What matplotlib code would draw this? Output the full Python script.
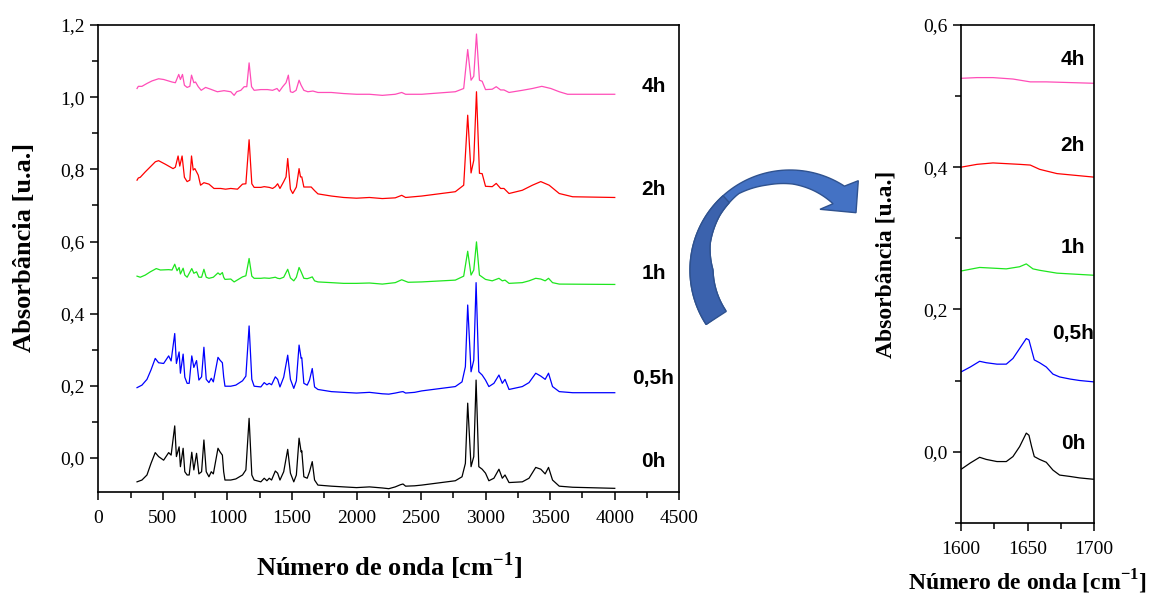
import numpy as np
import matplotlib
matplotlib.use('Agg')
import matplotlib.pyplot as plt
from matplotlib.patches import Polygon
from matplotlib.ticker import MultipleLocator, FuncFormatter

plt.rcParams['font.family'] = ['Liberation Serif', 'DejaVu Serif']
plt.rcParams['mathtext.fontset'] = 'custom'
plt.rcParams['mathtext.rm'] = 'Liberation Serif'
plt.rcParams['mathtext.bf'] = 'Liberation Serif:bold'

# ---- full spectra (wavenumber cm-1, absorbance) ----
wn_0h = [300, 338, 377, 408, 441, 467, 506, 545, 564, 592, 605, 626, 636, 657, 670, 688, 704, 724, 740, 761,
         779, 800, 818, 836, 857, 875, 891, 927, 943, 961, 971, 981, 1026, 1065, 1117, 1143, 1168, 1189, 1207,
         1259, 1285, 1306, 1324, 1342, 1371, 1389, 1407, 1436, 1467, 1488, 1514, 1534, 1555, 1571, 1576, 1592,
         1618, 1636, 1657, 1675, 1701, 1805, 1900, 2000, 2100, 2200, 2250, 2300, 2340, 2360, 2380, 2450, 2505,
         2765, 2817, 2843, 2861, 2887, 2908, 2926, 2947, 2973, 2999, 3025, 3064, 3103, 3129, 3150, 3181, 3284,
         3336, 3388, 3427, 3461, 3487, 3518, 3570, 3674, 4000]
abs_0h = [-0.066, -0.061, -0.047, -0.015, 0.015, 0.004, -0.006, 0.015, 0.008, 0.089, 0.004, 0.031, -0.024,
          0.027, -0.038, -0.047, -0.047, 0.016, -0.033, 0.013, -0.044, -0.038, 0.050, -0.038, -0.052, -0.038,
          -0.044, 0.027, 0.017, 0.008, -0.038, -0.061, -0.061, -0.058, -0.047, -0.033, 0.110, -0.047, -0.061,
          -0.066, -0.056, -0.063, -0.056, -0.061, -0.036, -0.042, -0.061, -0.038, 0.024, -0.042, -0.066, -0.047,
          0.055, 0.017, 0.020, -0.052, -0.056, -0.038, -0.010, -0.061, -0.075, -0.078, -0.080, -0.082, -0.080,
          -0.083, -0.085, -0.080, -0.074, -0.072, -0.078, -0.077, -0.075, -0.063, -0.052, -0.015, 0.152, -0.024,
          0.004, 0.216, -0.024, -0.031, -0.042, -0.063, -0.056, -0.031, -0.056, -0.047, -0.068, -0.066, -0.056,
          -0.026, -0.031, -0.044, -0.026, -0.061, -0.078, -0.081, -0.084]

wn_05h = wn_0h
abs_05h = [0.195, 0.202, 0.218, 0.244, 0.276, 0.264, 0.262, 0.283, 0.269, 0.345, 0.262, 0.294, 0.235, 0.288,
           0.224, 0.207, 0.207, 0.283, 0.251, 0.270, 0.216, 0.225, 0.307, 0.218, 0.209, 0.221, 0.211, 0.279,
           0.271, 0.264, 0.225, 0.199, 0.199, 0.202, 0.214, 0.227, 0.366, 0.218, 0.199, 0.197, 0.209, 0.203,
           0.207, 0.203, 0.225, 0.218, 0.197, 0.224, 0.285, 0.218, 0.193, 0.214, 0.313, 0.276, 0.278, 0.207,
           0.202, 0.216, 0.248, 0.197, 0.190, 0.184, 0.182, 0.180, 0.182, 0.178, 0.177, 0.180, 0.183, 0.184,
           0.180, 0.182, 0.186, 0.198, 0.211, 0.253, 0.424, 0.239, 0.271, 0.486, 0.239, 0.230, 0.216, 0.198,
           0.207, 0.230, 0.207, 0.218, 0.190, 0.198, 0.209, 0.235, 0.227, 0.218, 0.235, 0.198, 0.184, 0.181,
           0.181]

wn_1h = [300, 325, 364, 403, 449, 481, 545, 571, 592, 610, 626, 636, 657, 670, 688, 724, 740, 761, 779, 800,
         818, 836, 857, 891, 927, 943, 961, 971, 981, 1026, 1052, 1117, 1143, 1168, 1189, 1207, 1259, 1285, 1324,
         1371, 1389, 1407, 1436, 1467, 1488, 1514, 1534, 1555, 1571, 1592, 1618, 1636, 1657, 1675, 1701, 1805,
         1900, 2000, 2100, 2200, 2300, 2350, 2400, 2505, 2765, 2830, 2861, 2887, 2908, 2929, 2952, 2999, 3051,
         3103, 3129, 3150, 3181, 3284, 3336, 3388, 3427, 3461, 3487, 3518, 3570, 4000]
abs_1h = [0.504, 0.501, 0.507, 0.516, 0.525, 0.521, 0.522, 0.521, 0.537, 0.519, 0.528, 0.510, 0.526, 0.507,
          0.501, 0.525, 0.512, 0.516, 0.501, 0.501, 0.523, 0.501, 0.498, 0.501, 0.513, 0.508, 0.514, 0.501,
          0.495, 0.496, 0.488, 0.502, 0.505, 0.553, 0.504, 0.498, 0.498, 0.499, 0.498, 0.501, 0.498, 0.497,
          0.501, 0.523, 0.499, 0.491, 0.501, 0.528, 0.516, 0.498, 0.497, 0.499, 0.502, 0.491, 0.488, 0.486,
          0.484, 0.484, 0.485, 0.482, 0.486, 0.494, 0.487, 0.488, 0.493, 0.504, 0.573, 0.507, 0.521, 0.599,
          0.507, 0.495, 0.491, 0.498, 0.491, 0.493, 0.484, 0.486, 0.491, 0.498, 0.496, 0.491, 0.498, 0.486,
          0.482, 0.481]

wn_2h = [300, 310, 325, 364, 403, 442, 467, 520, 579, 597, 618, 631, 649, 667, 688, 709, 722, 735, 748, 774,
         792, 818, 857, 896, 948, 986, 1026, 1078, 1117, 1143, 1168, 1189, 1207, 1259, 1285, 1324, 1350, 1371,
         1389, 1407, 1436, 1454, 1467, 1488, 1506, 1534, 1555, 1566, 1576, 1592, 1618, 1649, 1675, 1701, 1805,
         1900, 2000, 2100, 2200, 2300, 2350, 2380, 2505, 2765, 2830, 2861, 2887, 2908, 2929, 2952, 2973, 2999,
         3051, 3082, 3116, 3142, 3181, 3284, 3362, 3427, 3492, 3570, 3674, 4000]
abs_2h = [0.770, 0.776, 0.778, 0.793, 0.807, 0.821, 0.824, 0.814, 0.802, 0.806, 0.837, 0.809, 0.837, 0.778,
          0.766, 0.770, 0.837, 0.798, 0.802, 0.784, 0.756, 0.763, 0.759, 0.747, 0.747, 0.745, 0.747, 0.745,
          0.759, 0.760, 0.882, 0.760, 0.750, 0.750, 0.752, 0.750, 0.747, 0.752, 0.760, 0.747, 0.766, 0.779,
          0.830, 0.745, 0.733, 0.751, 0.802, 0.779, 0.779, 0.751, 0.751, 0.751, 0.741, 0.732, 0.726, 0.722,
          0.720, 0.722, 0.719, 0.721, 0.728, 0.722, 0.726, 0.738, 0.756, 0.950, 0.790, 0.825, 1.015, 0.789,
          0.788, 0.753, 0.752, 0.761, 0.747, 0.747, 0.733, 0.742, 0.756, 0.766, 0.756, 0.733, 0.724, 0.722]

wn_4h = [300, 310, 338, 377, 416, 467, 506, 571, 597, 623, 636, 652, 667, 688, 709, 722, 740, 753, 774, 797,
         831, 870, 922, 974, 1026, 1052, 1072, 1104, 1130, 1150, 1168, 1187, 1207, 1259, 1311, 1350, 1384, 1402,
         1428, 1454, 1472, 1488, 1506, 1532, 1555, 1571, 1592, 1623, 1662, 1701, 1805, 1900, 2000, 2100, 2200,
         2300, 2350, 2380, 2505, 2765, 2830, 2861, 2887, 2908, 2929, 2952, 2973, 2999, 3051, 3082, 3116, 3142,
         3181, 3284, 3362, 3435, 3505, 3570, 3635, 4000]
abs_4h = [1.024, 1.030, 1.030, 1.038, 1.045, 1.051, 1.049, 1.042, 1.040, 1.063, 1.049, 1.063, 1.033, 1.027,
          1.030, 1.061, 1.040, 1.042, 1.029, 1.019, 1.027, 1.022, 1.015, 1.018, 1.015, 1.005, 1.015, 1.019,
          1.029, 1.029, 1.095, 1.029, 1.019, 1.021, 1.021, 1.019, 1.024, 1.016, 1.029, 1.040, 1.061, 1.015,
          1.013, 1.019, 1.047, 1.033, 1.019, 1.015, 1.017, 1.013, 1.013, 1.010, 1.008, 1.008, 1.005, 1.008,
          1.013, 1.008, 1.008, 1.015, 1.024, 1.132, 1.047, 1.058, 1.175, 1.047, 1.044, 1.021, 1.022, 1.029,
          1.020, 1.020, 1.013, 1.019, 1.024, 1.030, 1.024, 1.015, 1.008, 1.008]

# ---- zoom 1600-1700 cm-1 ----
zwn_0h = [1600, 1607, 1614, 1619, 1627, 1634, 1639, 1644, 1649, 1651, 1653, 1655, 1659, 1664, 1669, 1674,
          1682, 1689, 1700]
zabs_0h = [-0.025, -0.016, -0.008, -0.011, -0.014, -0.014, -0.007, 0.007, 0.026, 0.023, 0.007, -0.007,
           -0.011, -0.015, -0.026, -0.033, -0.035, -0.037, -0.039]
zwn_05h = zwn_0h
zabs_05h = [0.112, 0.119, 0.127, 0.125, 0.123, 0.123, 0.131, 0.145, 0.159, 0.157, 0.143, 0.129, 0.125, 0.119,
            0.109, 0.105, 0.102, 0.100, 0.098]
zwn_1h = [1600, 1614, 1634, 1644, 1649, 1654, 1659, 1672, 1700]
zabs_1h = [0.254, 0.259, 0.257, 0.260, 0.264, 0.257, 0.255, 0.251, 0.248]
zwn_2h = [1600, 1612, 1624, 1644, 1652, 1659, 1672, 1700]
zabs_2h = [0.400, 0.404, 0.406, 0.404, 0.403, 0.397, 0.391, 0.386]
zwn_4h = [1600, 1612, 1624, 1639, 1652, 1664, 1700]
zabs_4h = [0.525, 0.526, 0.526, 0.524, 0.520, 0.520, 0.518]

labels = ['0h', '0,5h', '1h', '2h', '4h']
colors = ['black', '#0000FF', '#1EE61E', '#FF0000', '#FF4DB8']
label_y_left = [-0.011, 0.219, 0.512, 0.745, 1.03]
label_y_right = [0.012, 0.166, 0.287, 0.430, 0.551]

full = [(wn_0h, abs_0h), (wn_05h, abs_05h), (wn_1h, abs_1h), (wn_2h, abs_2h), (wn_4h, abs_4h)]
zoom = [(zwn_0h, zabs_0h), (zwn_05h, zabs_05h), (zwn_1h, zabs_1h), (zwn_2h, zabs_2h), (zwn_4h, zabs_4h)]

comma = FuncFormatter(lambda v, p: ('%.1f' % v).replace('.', ','))
bold_serif = dict(family='Liberation Serif', weight='bold')
tag_font = dict(family='Liberation Sans', weight='bold', size=15)


def style_axes(ax):
    for s in ax.spines.values():
        s.set_linewidth(1.2)
    ax.tick_params(which='both', direction='out', width=1.1, labelsize=14)
    ax.tick_params(which='major', length=6)
    ax.tick_params(which='minor', length=4)
    ax.tick_params(axis='x', which='major', pad=7)
    ax.yaxis.set_major_formatter(comma)


fig = plt.figure(figsize=(11.51, 5.95), dpi=100)

ax1 = fig.add_axes([0.0854, 0.1726, 0.5048, 0.7854])
for (x, y), c in zip(full, colors):
    ax1.plot(x, y, color=c, lw=0.9)
for lab, ly in zip(labels, label_y_left):
    ax1.text(4300, ly, lab, ha='center', va='center', **tag_font)
ax1.set_xlim(0, 4500)
ax1.set_ylim(-0.095, 1.2)
ax1.xaxis.set_major_locator(MultipleLocator(500))
ax1.xaxis.set_minor_locator(MultipleLocator(250))
ax1.yaxis.set_major_locator(MultipleLocator(0.2))
ax1.yaxis.set_minor_locator(MultipleLocator(0.1))
style_axes(ax1)
ax1.set_xlabel(r'Número de onda [cm$^{\mathbf{-1}}$]', fontsize=19, **bold_serif)
ax1.set_ylabel('Absorbância [u.a.]', fontsize=19, **bold_serif)
ax1.xaxis.set_label_coords(0.5, -0.125)
ax1.yaxis.set_label_coords(-0.107, 0.525)

ax2 = fig.add_axes([0.8349, 0.1215, 0.1158, 0.8365])
for (x, y), c in zip(zoom, colors):
    ax2.plot(x, y, color=c, lw=0.9)
for lab, ly in zip(labels, label_y_right):
    ax2.text(1684, ly, lab, ha='center', va='center', **tag_font)
ax2.set_xlim(1600, 1700)
ax2.set_ylim(-0.1, 0.6)
ax2.xaxis.set_major_locator(MultipleLocator(50))
ax2.xaxis.set_minor_locator(MultipleLocator(25))
ax2.yaxis.set_major_locator(MultipleLocator(0.2))
ax2.yaxis.set_minor_locator(MultipleLocator(0.1))
style_axes(ax2)
ax2.set_xlabel(r'Número de onda [cm$^{\mathbf{-1}}$]', fontsize=17, **bold_serif)
ax2.set_ylabel('Absorbância [u.a.]', fontsize=17, **bold_serif)
ax2.xaxis.set_label_coords(0.5, -0.09)
ax2.yaxis.set_label_coords(-0.48, 0.52)

# curved block arrow between the panels (drawn in figure pixels, y down)
W, H = 1151, 595
cx, cy = 790, 270


def arc(phi_deg, radius):
    p = np.radians(phi_deg)
    return np.c_[cx + radius * np.cos(p), cy + radius * np.sin(p)]


phi_out = np.linspace(147, 303, 80)
phi_in = np.linspace(303, 148, 80)
r_in = np.interp(phi_in, [148, 180, 198, 218, 236, 255, 272, 286, 303],
                 [76, 77, 84, 89, 92, 88, 86, 83, 79])
head = np.array([[858.3, 180.7], [856, 212.7], [820, 209.3]])
shape = np.vstack([arc(phi_out, 100), head, arc(phi_in, r_in)])
shape[:, 0] /= W
shape[:, 1] = 1 - shape[:, 1] / H
fig.patches.append(Polygon(shape, closed=True, transform=fig.transFigure,
                           facecolor='#4472C4', edgecolor='#2F528F', lw=1.0))

phi_dk = np.linspace(147, 228, 40)
r_dk = np.interp(phi_dk[::-1], [148, 180, 198, 218, 236], [76, 77, 84, 89, 92])
dark = np.vstack([arc(phi_dk, 100), arc(phi_dk[::-1], r_dk)])
dark[:, 0] /= W
dark[:, 1] = 1 - dark[:, 1] / H
fig.patches.append(Polygon(dark, closed=True, transform=fig.transFigure,
                           facecolor='#3B62AD', edgecolor='#2F528F', lw=1.0))

fig.savefig('out.png', dpi=100)
